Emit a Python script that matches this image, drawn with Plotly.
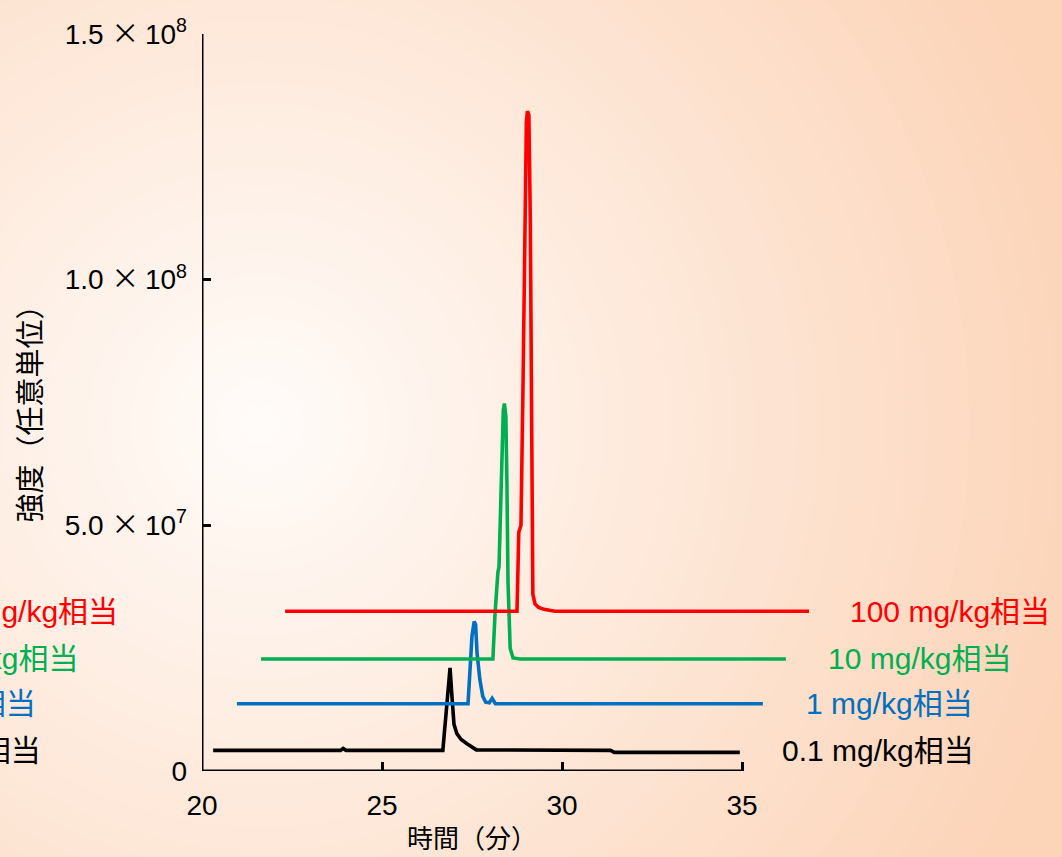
import plotly.graph_objects as go

# ---------------- data (display coordinates: time in min, intensity in units of 1e6) ----------------
t_01 = [20.31, 23.85, 23.92, 24.0, 26.69, 26.78, 26.85, 26.89, 26.94, 27.0, 27.08, 27.2, 27.35, 27.5, 27.62, 31.35, 31.45, 34.94]
v_01 = [4.2, 4.2, 4.6, 4.2, 4.2, 12.0, 19.5, 21.0, 15.5, 9.5, 7.6, 6.4, 5.6, 4.8, 4.3, 4.2, 3.8, 3.8]

t_1 = [20.97, 27.39, 27.44, 27.50, 27.56, 27.60, 27.64, 27.68, 27.72, 27.80, 27.88, 27.98, 28.06, 28.15, 35.58]
v_1 = [13.7, 13.7, 20.0, 27.5, 30.4, 29.8, 24.0, 20.4, 18.5, 15.2, 14.0, 13.9, 14.8, 13.7, 13.7]

t_10 = [21.64, 28.08, 28.14, 28.19, 28.22, 28.25, 28.29, 28.33, 28.37, 28.40, 28.44, 28.47, 28.50, 28.56, 28.64, 28.83, 36.22]
v_10 = [22.8, 22.8, 32.0, 38.5, 40.5, 41.5, 52.0, 65.3, 73.5, 74.8, 72.2, 58.7, 38.5, 25.0, 23.0, 22.8, 22.8]

t_100 = [22.31, 28.75, 28.80, 28.86, 28.92, 28.97, 29.01, 29.04, 29.08, 29.12, 29.16, 29.19, 29.25, 29.35, 29.50, 29.80, 36.86]
v_100 = [32.5, 32.5, 48.6, 50.0, 80.0, 115.0, 132.0, 134.3, 133.5, 112.0, 72.0, 36.0, 34.0, 33.3, 32.9, 32.5, 32.5]

labels = ["0.1 mg/kg相当", "1 mg/kg相当", "10 mg/kg相当", "100 mg/kg相当"]
colors = ["#000000", "#0070c0", "#00b050", "#ff0000"]
series_t = [t_01, t_1, t_10, t_100]
series_v = [v_01, v_1, v_10, v_100]
baselines = [4.2, 13.7, 22.8, 32.5]
right_label_x = [36.05, 36.72, 37.33, 37.95]     # label left edge (min)
left_label_x = [15.58, 15.44, 16.61, 17.72]      # cut-off label right edge (min)

x_ticks = [20, 25, 30, 35]
y_ticks = [0, 5.0e7, 1.0e8, 1.5e8]
TIMES = "<span style='font-family:Noto Sans CJK JP'>×</span>\u2009"
y_ticktext = ["0",
              "5.0 " + TIMES + "10<sup>7</sup>",
              "1.0 " + TIMES + "10<sup>8</sup>",
              "1.5 " + TIMES + "10<sup>8</sup>"]

UNIT = 1e6
X_RANGE = [20, 38]
Y_RANGE = [0, 1.5e8]

# ---------------- layout geometry ----------------
W, H = 1062, 857
ML, MR, MT, MB = 202, 212, 27, 86
PW, PH = W - ML - MR, H - MT - MB

def px_to_paper_x(px):
    return (px - ML) / PW

def px_to_paper_y(py):
    return (H - MB - py) / PH

def data_to_paper_x(x):
    return (x - X_RANGE[0]) / (X_RANGE[1] - X_RANGE[0])

FONT = "Liberation Sans, Arial, Noto Sans CJK JP, sans-serif"

fig = go.Figure()

for t, v, c in zip(series_t, series_v, colors):
    fig.add_trace(go.Scatter(
        x=t, y=[val * UNIT for val in v], mode="lines",
        line=dict(color=c, width=3.6), showlegend=False, hoverinfo="skip"))

shapes = []
# background radial gradient (concentric rings)
cx, cy = 260, 420
inner = (255, 252, 250)
outer = (252, 212, 184)
rmax = 860
steps = 40
shapes.append(dict(type="rect", xref="paper", yref="paper", layer="below",
                   x0=px_to_paper_x(0), x1=px_to_paper_x(W), y0=px_to_paper_y(H), y1=px_to_paper_y(0),
                   fillcolor="rgb(%d,%d,%d)" % outer, line=dict(width=0)))
for i in range(steps, 0, -1):
    r = rmax * i / steps
    f = i / steps
    col = tuple(round(inner[k] + (outer[k] - inner[k]) * f) for k in range(3))
    shapes.append(dict(
        type="circle", xref="paper", yref="paper", layer="below",
        x0=px_to_paper_x(cx - r), x1=px_to_paper_x(cx + r),
        y0=px_to_paper_y(cy + r), y1=px_to_paper_y(cy - r),
        fillcolor="rgb(%d,%d,%d)" % col, line=dict(width=0)))

# axis lines (x axis spans 20-35 only)
shapes.append(dict(type="line", xref="x", yref="y", x0=x_ticks[0], x1=x_ticks[-1], y0=0, y1=0,
                   line=dict(color="black", width=3)))
shapes.append(dict(type="line", xref="x", yref="y", x0=x_ticks[0], x1=x_ticks[0], y0=y_ticks[0], y1=y_ticks[-1],
                   line=dict(color="black", width=3)))

annotations = []
for lab, c, xr, xl, b in zip(labels, colors, right_label_x, left_label_x, baselines):
    annotations.append(dict(text=lab, xref="paper", yref="y", x=data_to_paper_x(xr), y=b * UNIT,
                            xanchor="left", yanchor="middle", showarrow=False,
                            font=dict(size=30, color=c, family=FONT)))
    annotations.append(dict(text=lab, xref="paper", yref="y", x=data_to_paper_x(xl), y=b * UNIT,
                            xanchor="right", yanchor="middle", showarrow=False,
                            font=dict(size=30, color=c, family=FONT)))

annotations.append(dict(text="時間（分）", xref="x", yref="paper", x=(x_ticks[0] + x_ticks[-1]) / 2,
                        y=px_to_paper_y(840), xanchor="center", yanchor="middle", showarrow=False,
                        font=dict(size=26, color="black", family=FONT)))
annotations.append(dict(text="強度（任意単位）", xref="paper", yref="paper", x=px_to_paper_x(31),
                        y=px_to_paper_y(403), xanchor="center", yanchor="middle", showarrow=False,
                        textangle=-90, font=dict(size=29, color="black", family=FONT)))

fig.update_layout(
    width=W, height=H, autosize=False,
    margin=dict(l=ML, r=MR, t=MT, b=MB, pad=0),
    paper_bgcolor="rgb(%d,%d,%d)" % outer, plot_bgcolor="rgba(0,0,0,0)",
    font=dict(family=FONT, color="black"),
    shapes=shapes, annotations=annotations, showlegend=False,
    xaxis=dict(range=X_RANGE, tickvals=x_ticks, ticks="inside", ticklen=9, tickwidth=3, tickcolor="black",
               showline=False, showgrid=False, zeroline=False, tickfont=dict(size=28, color="black"),
               ticklabelstandoff=15, fixedrange=True),
    yaxis=dict(range=Y_RANGE, tickvals=y_ticks, ticktext=y_ticktext, ticks="inside", ticklen=9, tickwidth=3,
               tickcolor="black", showline=False, showgrid=False, zeroline=False,
               tickfont=dict(size=28, color="black"), ticklabelstandoff=14, fixedrange=True),
)

fig.write_html("out.html")
